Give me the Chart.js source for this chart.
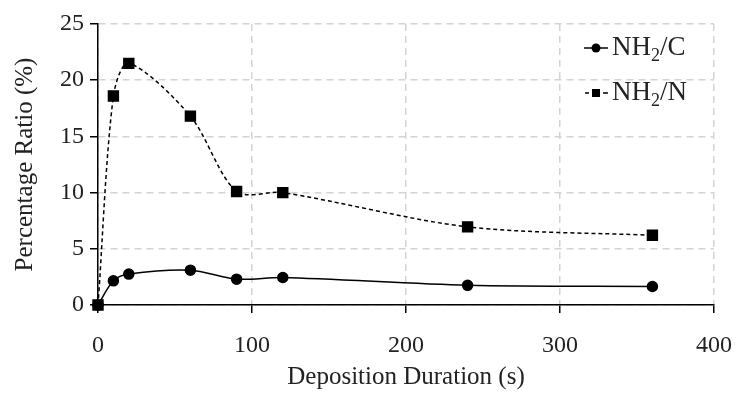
<!DOCTYPE html>
<html>
<head>
<meta charset="utf-8">
<script src="https://cdn.jsdelivr.net/npm/chart.js@4"></script>
<style>
  html, body { margin: 0; padding: 0; background: #fff; }
  #wrap { width: 743px; height: 400px; }
</style>
</head>
<body>
<div id="wrap"><canvas id="chart"></canvas></div>
<script>
// deposition duration (s)
var durations = [0, 10, 20, 60, 90, 120, 240, 360];
// percentage ratios
var nh2C = [0, 2.15, 2.75, 3.1, 2.3, 2.45, 1.75, 1.65];
var nh2N = [0, 18.6, 21.5, 16.8, 10.1, 10.0, 6.95, 6.2];
var seriesLabels = ['NH₂/C', 'NH₂/N'];

var serif = "'Liberation Serif', 'DejaVu Serif', serif";

function toXY(xs, ys) {
  var out = [];
  for (var i = 0; i < xs.length; i++) out.push({x: xs[i], y: ys[i]});
  return out;
}

// legend drawn inside the plot, top right, with subscript 2
var insideLegend = {
  id: 'insideLegend',
  afterDraw: function(chart) {
    var ctx = chart.ctx;
    var area = chart.chartArea;
    var rows = [area.top + 24, area.top + 69];
    chart.data.datasets.forEach(function(ds, i) {
      var y = rows[i];
      var x0 = area.right - 130;
      ctx.save();
      ctx.strokeStyle = '#000';
      ctx.fillStyle = '#000';
      ctx.lineWidth = 1.5;
      ctx.beginPath();
      if (ds.borderDash && ds.borderDash.length) {
        ctx.moveTo(x0 + 1, y); ctx.lineTo(x0 + 5, y);
        ctx.moveTo(x0 + 19, y); ctx.lineTo(x0 + 24, y);
      } else {
        ctx.moveTo(x0, y); ctx.lineTo(x0 + 24, y);
      }
      ctx.stroke();
      if (ds.pointStyle === 'rect') {
        ctx.fillRect(x0 + 8, y - 4, 8, 8);
      } else {
        ctx.beginPath();
        ctx.arc(x0 + 12, y, 4.5, 0, Math.PI * 2);
        ctx.fill();
      }
      var parts = ds.label.split('₂');
      var tx = x0 + 28;
      ctx.fillStyle = '#222';
      ctx.textBaseline = 'middle';
      ctx.font = '27px ' + serif;
      ctx.fillText(parts[0], tx, y);
      tx += ctx.measureText(parts[0]).width;
      ctx.font = '18px ' + serif;
      ctx.fillText('2', tx, y + 8);
      tx += ctx.measureText('2').width;
      ctx.font = '27px ' + serif;
      ctx.fillText(parts[1], tx, y);
      ctx.restore();
    });
  }
};

var ctx = document.getElementById('chart').getContext('2d');
var myChart = new Chart(ctx, {
  type: 'line',
  data: {
    datasets: [{
      label: seriesLabels[0],
      data: toXY(durations, nh2C),
      borderColor: '#000',
      backgroundColor: '#000',
      borderWidth: 1.5,
      tension: 0.3,
      clip: 10,
      pointStyle: 'circle',
      pointRadius: 5,
      pointBackgroundColor: '#000',
      pointBorderColor: '#000',
      fill: false
    }, {
      label: seriesLabels[1],
      data: toXY(durations, nh2N),
      borderColor: '#000',
      backgroundColor: '#000',
      borderWidth: 1.5,
      borderDash: [4, 3],
      tension: 0.3,
      clip: 10,
      pointStyle: 'rect',
      pointRadius: 7,
      pointBackgroundColor: '#000',
      pointBorderColor: '#000',
      fill: false
    }]
  },
  options: {
    responsive: true,
    maintainAspectRatio: false,
    animation: false,
    layout: { padding: { top: 24, right: 29, left: 10, bottom: 8 } },
    plugins: {
      legend: { display: false },
      tooltip: { enabled: false }
    },
    scales: {
      x: {
        type: 'linear',
        min: 0,
        max: 400,
        afterFit: function(scale) { scale.paddingLeft = 0; scale.paddingRight = 0; },
        ticks: { stepSize: 100, color: '#222', font: { family: serif, size: 24, lineHeight: 1 }, padding: 21 },
        grid: { color: '#d4d4d4', lineWidth: 1.5, tickColor: '#000', tickLength: 8, tickBorderDash: [] },
        border: { color: '#000', width: 1.5, dash: [7, 5] },
        title: { display: true, text: 'Deposition Duration (s)', color: '#222', font: { family: serif, size: 25 }, padding: { top: -17, bottom: 0 } }
      },
      y: {
        min: 0,
        max: 25,
        ticks: { stepSize: 5, color: '#222', font: { family: serif, size: 24 }, padding: 6 },
        grid: { color: '#d4d4d4', lineWidth: 1.5, tickColor: '#000', tickLength: 8, tickBorderDash: [] },
        border: { color: '#000', width: 1.5, dash: [7, 5] },
        title: { display: true, text: 'Percentage Ratio (%)', color: '#222', font: { family: serif, size: 25 }, padding: { top: 0, bottom: 14 } }
      }
    }
  },
  plugins: [insideLegend]
});
</script>
</body>
</html>
